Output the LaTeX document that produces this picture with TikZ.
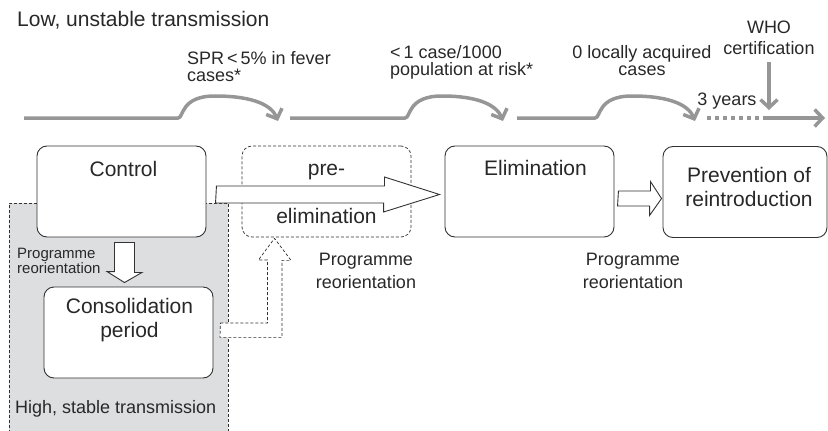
\documentclass[tikz,border=0pt]{standalone}
\usepackage{fontspec}
\setmainfont{Liberation Sans}
\usetikzlibrary{arrows.meta, positioning, calc}
\definecolor{txtgray}{RGB}{40,40,40}
\definecolor{linegray}{RGB}{150,150,150}
\definecolor{shadegray}{RGB}{221,222,224}
\definecolor{edgegray}{RGB}{50,50,50}

\begin{document}
\begin{tikzpicture}[
        x=1pt, y=-1pt,
        phase/.style={
            draw=edgegray,
            line width=0.9pt,
            fill=white,
            rounded corners=10pt,
            minimum width=169pt,
            minimum height=91pt,
            inner sep=0pt
        },
        phasedash/.style={phase, line width=0.7pt, dash pattern=on 3pt off 2pt},
        phasetext/.style={font=\fontsize{21}{24}\selectfont, text=txtgray, inner sep=0pt, align=center},
        lbl/.style={font=\fontsize{18}{17}\selectfont, text=txtgray, inner sep=0pt},
        reor/.style={font=\fontsize{18}{23}\selectfont, text=txtgray, inner sep=0pt, align=center},
        blk/.style={draw=edgegray, line width=0.9pt, fill=white},
        tl/.style={draw=linegray, line width=3.5pt},
        tlarr/.style={tl, -{Straight Barb[length=8pt,width=17pt]}}
    ]
        \useasboundingbox (0,0) rectangle (828,431);
        % High transmission area
        \fill[shadegray] (9,203) rectangle (228,433);
        \draw[edgegray, line width=0.7pt, dash pattern=on 3pt off 2pt] (9,433) -- (9,203) -- (228,203) -- (228,433);
        % Phases
        \node[phase] (ctrl) at (121.5,191.5) {};
        \node[phasedash] (pre) at (326.5,191.5) {};
        \node[phase] (elim) at (529.5,191.5) {};
        \node[phase, minimum width=164pt] (prev) at (745,192) {};
        \node[phase] (cons) at (128.5,332.5) {};
        % Block arrows
        \draw[blk] ($(ctrl.east)+(10,-5.5)$) -- ++(168,0) -- ++(0,-9) -- ($(elim.west)+(-5,3)$) -- ++(-56,17.5) -- ++(0,-9) -- ++(-168,0) -- cycle;
        \draw[blk] ($(elim.east)+(4,-0.5)$) -- ++(32,0) -- ++(0,-9.5) -- ($(prev.west)+(-1,6.5)$) -- ++(-12,17) -- ++(0,-9.5) -- ++(-32,0) -- cycle;
        \draw[blk] ($(ctrl.south)+(-7,5)$) -- ++(20,0) -- ++(0,30) -- ++(7.5,0) -- ($(cons.north)+(-4,-4)$) -- ++(-17.5,-11) -- ++(7.5,0) -- cycle;
        \draw[blk, line width=0.7pt, dash pattern=on 3pt off 2pt] ($(cons.east)+(7,-9.5)$) -- ++(47,0) -- ++(0,-63) -- ++(-9,0) -- ($(pre.south)+(-52,1)$) -- ++(16.5,22) -- ++(-9,0) -- ++(0,77) -- ++(-62,0) -- cycle;
        % Phase texts
        \node[phasetext, anchor=base] (ctrltx) at ($(ctrl.north)+(2,31)$) {Control};
        \node[phasetext, anchor=base] (pretx) at ($(pre.north)+(0,30)$) {pre-};
        \node[phasetext, anchor=base] (pretx2) at ($(pre.north)+(0,78)$) {elimination};
        \node[phasetext, anchor=base] (elimtx) at ($(elim.north)+(6,30)$) {Elimination};
        \node[phasetext, anchor=north] (prevtx) at ($(prev.north)+(4,21)$) {Prevention of\\reintroduction};
        \node[phasetext, anchor=north] (constx) at ($(cons.north)+(1,12)$) {Consolidation\\period};
        % Transmission labels
        \node[phasetext, anchor=base west] (low) at (17,27) {Low, unstable transmission};
        \node[lbl, anchor=base west] (high) at (15,413) {High, stable transmission};
        % Reorientation labels
        \node[reor, font=\fontsize{15}{15}\selectfont, align=left, anchor=north west] (reor1) at (17,248) {Programme\\reorientation};
        \node[reor, anchor=north] (reor2) at (366,253) {Programme\\reorientation};
        \node[reor, anchor=north] (reor3) at (633,253) {Programme\\reorientation};
        % Timeline labels
        \node[lbl, align=left, anchor=north west] (spr) at (187,51) {SPR\,<\,5\% in fever\\cases*};
        \node[lbl, align=left, anchor=north west] (inc) at (390,45) {<\,1 case/1000\\population at risk*};
        \node[lbl, align=center, anchor=north] (zero) at (642,45) {0 locally acquired\\cases};
        \node[lbl, font=\fontsize{18}{21}\selectfont, align=center, anchor=north] (who) at (769,21) {WHO\\certification};
        \node[lbl, anchor=base] (yrs) at (727,105) {3 years};
        % Timeline
        \coordinate (t0) at (24,118);
        \coordinate (t1) at (178,118);
        \coordinate (a1) at (278,121);
        \coordinate (t2) at (290,118);
        \coordinate (t3) at (405,118);
        \coordinate (a2) at (503,121);
        \coordinate (t4) at (517,118);
        \coordinate (t5) at (595,118);
        \coordinate (a3) at (695,121);
        \coordinate (d0) at (707,118);
        \coordinate (d1) at (767,118);
        \coordinate (tend) at (825,118);
        \coordinate (whotip) at (769,110);
        \draw[tlarr] (t0) -- (t1) .. controls (184,118) and (180,96) .. (215,96) .. controls (255,96) and (272,106) .. (a1);
        \draw[tlarr] (t2) -- (t3) .. controls (411,118) and (407,96) .. (442,96) .. controls (480,96) and (497,106) .. (a2);
        \draw[tlarr] (t4) -- (t5) .. controls (601,118) and (597,96) .. (632,96) .. controls (672,96) and (689,106) .. (a3);
        \draw[tl, dash pattern=on 4pt off 4pt] (d0) -- (d1);
        \draw[tlarr] (d1) -- (tend);
        \draw[tlarr] ($(who.south)+(0,7)$) -- (whotip);
    \end{tikzpicture}
\end{document}
